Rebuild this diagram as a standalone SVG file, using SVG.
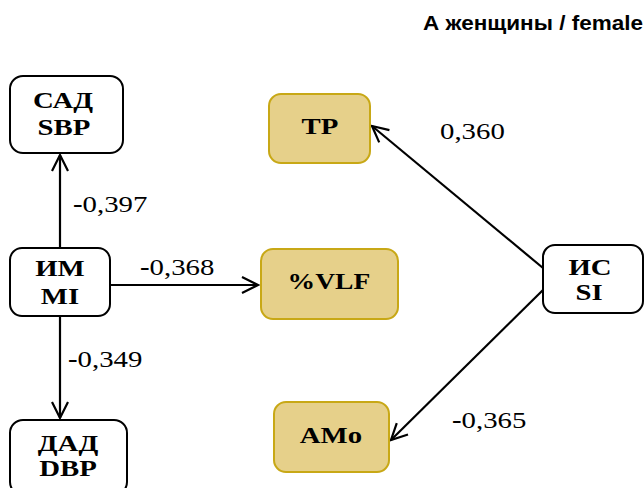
<svg xmlns="http://www.w3.org/2000/svg" width="644" height="488" viewBox="0 0 644 488">
<defs>
<marker id="ah" viewBox="0 0 20 20" refX="18" refY="10" markerWidth="20" markerHeight="20" markerUnits="userSpaceOnUse" orient="auto">
<path d="M2,2 L18,10 L2,18" fill="none" stroke="#000" stroke-width="2.2"/>
</marker>
<style>
.w{fill:#fff;stroke:#000;stroke-width:2}
.y{fill:#e6d08a;stroke:#c8a816;stroke-width:2}
.t{font-family:'Liberation Serif',serif;font-weight:bold;font-size:24px;text-anchor:middle;fill:#000}
.l{font-family:'Liberation Serif',serif;font-size:24px;fill:#000}
.c{stroke:#000;stroke-width:2.2;fill:none;marker-end:url(#ah)}
</style>
</defs>
<rect width="644" height="488" fill="#fff"/>
<text x="423" y="30" font-family="Liberation Sans, Arial, sans-serif" font-weight="bold" font-size="20" fill="#000" textLength="220" lengthAdjust="spacingAndGlyphs">А  женщины / female</text>
<g id="connectors">
<line class="c" x1="60" y1="248" x2="60" y2="155"/>
<line class="c" x1="60" y1="316" x2="60" y2="418"/>
<line class="c" x1="110" y1="285" x2="258" y2="285"/>
<line class="c" x1="543" y1="268" x2="372" y2="126"/>
<line class="c" x1="543" y1="290" x2="391" y2="440"/>
<text class="l" transform="translate(73,212) scale(1.2,1)"><tspan font-weight="bold">-</tspan>0,397</text>
<text class="l" transform="translate(140,275) scale(1.2,1)"><tspan font-weight="bold">-</tspan>0,368</text>
<text class="l" transform="translate(68,367) scale(1.2,1)"><tspan font-weight="bold">-</tspan>0,349</text>
<text class="l" transform="translate(440,139) scale(1.2,1)">0,360</text>
<text class="l" transform="translate(452,428) scale(1.2,1)"><tspan font-weight="bold">-</tspan>0,365</text>
</g>
<g id="sad"><rect class="w" x="10" y="76" width="113" height="77" rx="13"/><text class="t" transform="translate(63,108) scale(1.2,1)">САД</text><text class="t" transform="translate(64,135) scale(1.2,1)">SBP</text></g>
<g id="im"><rect class="w" x="10" y="248" width="100" height="68" rx="12"/><text class="t" transform="translate(60,276) scale(1.2,1)">ИМ</text><text class="t" transform="translate(60,304) scale(1.2,1)">MI</text></g>
<g id="dad"><rect class="w" x="10" y="420" width="117" height="75" rx="13"/><text class="t" transform="translate(68,451) scale(1.2,1)">ДАД</text><text class="t" transform="translate(68,476) scale(1.2,1)">DBP</text></g>
<g id="tp"><rect class="y" x="269" y="94" width="101" height="69" rx="12"/><text class="t" transform="translate(320,134) scale(1.2,1)">TP</text></g>
<g id="vlf"><rect class="y" x="261" y="249" width="137" height="70" rx="12"/><text class="t" transform="translate(329,289) scale(1.15,1)">%VLF</text></g>
<g id="amo"><rect class="y" x="274" y="402" width="115" height="70" rx="12"/><text class="t" transform="translate(331,443) scale(1.2,1)">AMo</text></g>
<g id="is"><rect class="w" x="543" y="245" width="100" height="68" rx="12"/><text class="t" transform="translate(590,275) scale(1.2,1)">ИС</text><text class="t" transform="translate(589,300) scale(1.2,1)">SI</text></g>
</svg>
